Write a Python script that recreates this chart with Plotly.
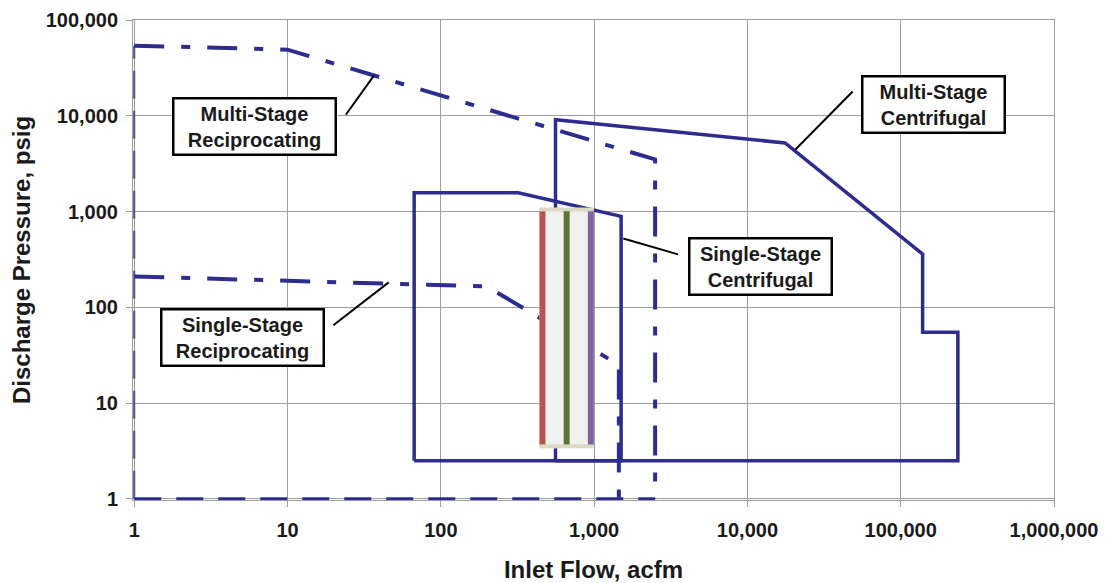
import math
import plotly.graph_objects as go

# ---------------- data ----------------
# Multi-stage reciprocating envelope (dash-dot, upper boundary + right side)
ms_recip_x = [1, 10, 2500, 2500]
ms_recip_y = [54000, 49000, 3500, 1]
# Single-stage reciprocating envelope
ss_recip_x = [1, 200, 1450, 1450]
ss_recip_y = [210, 165, 25, 1]
# shared reciprocating base and left side (dashed)
recip_base_x = [1, 2500]
recip_base_y = [1, 1]
recip_left_x = [1, 1]
recip_left_y = [1, 54000]

# Multi-stage centrifugal envelope (solid)
ms_cent_x = [560, 560, 17600, 139000, 139000, 236000, 236000, 560]
ms_cent_y = [2.5, 9100, 5200, 360, 55, 55, 2.5, 2.5]
# Single-stage centrifugal envelope (solid)
ss_cent_x = [67, 67, 320, 1500, 1500, 67]
ss_cent_y = [2.5, 1570, 1570, 890, 2.5, 2.5]

# highlighted band overlay
band_x = [440, 993]
band_y = [3.38, 1092]
band_line_x = [460, 662, 952]
band_line_colors = ["#C0504D", "#5B7431", "#8064A2"]
band_line_y = [3.7, 1010]

# labels: text, centre (x, y), leader line start/end
labels = ["Multi-Stage<br>Reciprocating", "Single-Stage<br>Reciprocating",
          "Single-Stage<br>Centrifugal", "Multi-Stage<br>Centrifugal"]
label_x = [6.1, 5.05, 12250, 164000]
label_y = [7680, 48.7, 267, 13180]
leader_x = [[24.0, 36.5], [19.9, 45.7], [1550, 3530], [48600, 20500]]
leader_y = [[10240, 26100], [64.9, 182], [523, 357], [17900, 4420]]

x_tick_vals = [1, 10, 100, 1000, 10000, 100000, 1000000]
x_tick_text = ["1", "10", "100", "1,000", "10,000", "100,000", "1,000,000"]
y_tick_vals = [1, 10, 100, 1000, 10000, 100000]
y_tick_text = ["1", "10", "100", "1,000", "10,000", "100,000"]

# ---------------- styles ----------------
BLUE = "#2E2D8F"
GRID = "#9c9c9c"
FONT = "Liberation Sans, Arial, sans-serif"
DASHDOT = "30px,17px,9px,17px"

fig = go.Figure()

def line(x, y, color, width, dash="solid"):
    fig.add_trace(go.Scatter(x=x, y=y, mode="lines",
                             line=dict(color=color, width=width, dash=dash),
                             hoverinfo="skip", showlegend=False))

line(recip_left_x, recip_left_y, "#4a49a0", 2, "28px,12px")
line(recip_base_x, recip_base_y, BLUE, 3, "27px,15px")
line(ms_recip_x, ms_recip_y, BLUE, 4, DASHDOT)
line(ss_recip_x, ss_recip_y, BLUE, 4, DASHDOT)
line(ms_cent_x, ms_cent_y, BLUE, 3.5)
line(ss_cent_x, ss_cent_y, BLUE, 3.5)

# band overlay
fig.add_trace(go.Scatter(
    x=[band_x[0], band_x[1], band_x[1], band_x[0], band_x[0]],
    y=[band_y[0], band_y[0], band_y[1], band_y[1], band_y[0]],
    mode="lines", fill="toself", fillcolor="#F1F1F1",
    line=dict(width=0, color="#F1F1F1"), hoverinfo="skip", showlegend=False))
line(band_x, [band_y[1] * 0.96] * 2, "#DDDAC4", 4)
line(band_x, [band_y[0] * 1.05] * 2, "#DDDAC4", 4)
for bx, bc in zip(band_line_x, band_line_colors):
    line([bx, bx], band_line_y, bc, 6)

# leader lines
for lx, ly in zip(leader_x, leader_y):
    line(lx, ly, "black", 2)

annotations = []
for t, lx, ly in zip(labels, label_x, label_y):
    annotations.append(dict(
        x=math.log10(lx), y=math.log10(ly), xref="x", yref="y",
        text=t, showarrow=False, align="center",
        font=dict(family=FONT, size=20, color="#1a1a1a", weight="bold"),
        bgcolor="white", bordercolor="black", borderwidth=2.5, borderpad=3,
        width=154 if "Reciprocating" in t else 134))

axis_common = dict(
    type="log", showgrid=True, gridcolor=GRID, gridwidth=1,
    showline=True, mirror=True, linecolor=GRID, linewidth=1,
    ticks="outside", ticklen=6, tickcolor=GRID, zeroline=False,
    automargin=False,
    tickfont=dict(family=FONT, size=20, color="#1a1a1a", weight="bold"),
)

# the page body adds an 8px offset, so the figure is 8px smaller than the window
fig.update_layout(
    width=1100, height=575,
    margin=dict(l=125, r=54, t=12, b=83),
    plot_bgcolor="white", paper_bgcolor="white",
    showlegend=False,
    annotations=annotations,
    xaxis=dict(axis_common, range=[-0.008, 6], tickvals=x_tick_vals, ticktext=x_tick_text,
               ticklabelstandoff=6,
               title=dict(text="Inlet Flow, acfm", standoff=26,
                          font=dict(family=FONT, size=24, color="#1a1a1a", weight="bold"))),
    yaxis=dict(axis_common, range=[-0.012, 5], tickvals=y_tick_vals, ticktext=y_tick_text,
               ticklabelstandoff=4,
               title=dict(text="Discharge Pressure, psig", standoff=10,
                          font=dict(family=FONT, size=24, color="#1a1a1a", weight="bold"))),
)

fig.write_html("out.html")
